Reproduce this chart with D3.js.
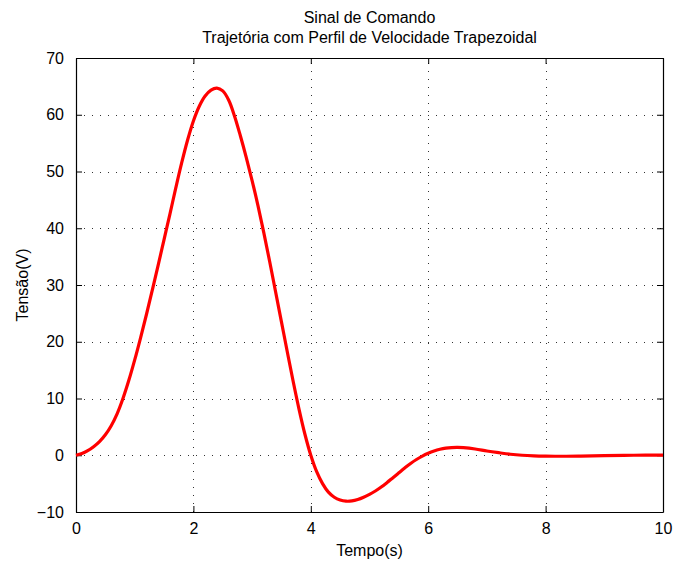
<!DOCTYPE html>
<html>
<head>
<meta charset="utf-8">
<script src="https://cdn.jsdelivr.net/npm/d3@7"></script>
<style>
  html, body { margin: 0; padding: 0; background: #fff; }
  svg { display: block; }
  text { font-family: "Liberation Sans", Arial, Helvetica, sans-serif; fill: #000; }
</style>
</head>
<body>
<svg id="chart" width="674" height="562"></svg>
<script>
// ---- data ----
const titleLines = ["Sinal de Comando", "Trajetória com Perfil de Velocidade Trapezoidal"];
const xLabel = "Tempo(s)";
const yLabel = "Tensão(V)";
const xTicks = [0, 2, 4, 6, 8, 10];
const yTicks = [-10, 0, 10, 20, 30, 40, 50, 60, 70];
const time = [0, 0.1, 0.2, 0.3, 0.4, 0.5, 0.6, 0.7, 0.8, 0.9, 1.0, 1.1, 1.2, 1.3, 1.4, 1.5, 1.6, 1.7, 1.8, 1.9, 2.0, 2.1, 2.2, 2.3, 2.4, 2.5, 2.6, 2.7, 2.8, 2.9, 3.0, 3.1, 3.2, 3.3, 3.4, 3.5, 3.6, 3.7, 3.8, 3.9, 4.0, 4.1, 4.2, 4.3, 4.4, 4.5, 4.6, 4.7, 4.8, 4.9, 5.0, 5.1, 5.2, 5.3, 5.4, 5.5, 5.6, 5.7, 5.8, 5.9, 6.0, 6.1, 6.2, 6.3, 6.4, 6.5, 6.6, 6.8, 7.0, 7.2, 7.4, 7.6, 7.8, 8.0, 8.3, 8.6, 9.0, 9.5, 10];
const voltage = [0, 0.3, 0.8, 1.5, 2.4, 3.6, 5.2, 7.3, 10.0, 13.2, 16.8, 20.7, 24.8, 29.1, 33.5, 38.0, 42.5, 47.1, 51.5, 55.5, 58.9, 61.5, 63.3, 64.35, 64.7, 64.2, 62.6, 59.8, 56.3, 52.5, 48.4, 44.0, 39.2, 34.1, 28.8, 23.5, 18.2, 13.0, 8.1, 3.7, 0.0, -2.9, -5.0, -6.5, -7.4, -7.9, -8.1, -8.05, -7.8, -7.4, -6.9, -6.3, -5.6, -4.8, -3.95, -3.1, -2.25, -1.45, -0.75, -0.15, 0.35, 0.75, 1.05, 1.25, 1.35, 1.38, 1.33, 1.1, 0.75, 0.45, 0.18, 0.0, -0.1, -0.15, -0.18, -0.15, -0.08, 0, 0.02];

// ---- layout ----
const svg = d3.select("#chart");
const L = 76, R = 663, T = 58, B = 512;
const x = d3.scaleLinear().domain([0, 10]).range([L, R]);
const y = d3.scaleLinear().domain([-10, 70]).range([B, T]);

// grid
const grid = svg.append("g").attr("stroke", "#333").attr("stroke-width", 1)
  .attr("stroke-dasharray", "1,7").attr("shape-rendering", "crispEdges");
xTicks.slice(1, -1).forEach(t => {
  grid.append("line").attr("x1", Math.round(x(t)) + 0.5).attr("x2", Math.round(x(t)) + 0.5)
    .attr("y1", B).attr("y2", T);
});
yTicks.slice(1, -1).forEach(t => {
  grid.append("line").attr("y1", Math.round(y(t)) + 0.5).attr("y2", Math.round(y(t)) + 0.5)
    .attr("x1", L).attr("x2", R);
});

// axes (ticks inward on all sides)
const tickLen = 6;
const axB = d3.axisBottom(x).tickValues(xTicks).tickSizeInner(-tickLen).tickSizeOuter(0).tickPadding(tickLen + 5).tickFormat(d3.format("d"));
const axT = d3.axisTop(x).tickValues(xTicks).tickSizeInner(-tickLen).tickSizeOuter(0).tickFormat("");
const axL = d3.axisLeft(y).tickValues(yTicks).tickSizeInner(-tickLen).tickSizeOuter(0).tickPadding(tickLen + 6)
  .tickFormat(d => d < 0 ? "\u2212" + Math.abs(d) : String(d));
const axR = d3.axisRight(y).tickValues(yTicks).tickSizeInner(-tickLen).tickSizeOuter(0).tickFormat("");

function style(g) {
  g.select(".domain").attr("stroke", "#000").attr("stroke-width", 1.2);
  g.selectAll(".tick line").attr("stroke", "#000").attr("stroke-width", 1);
  g.selectAll(".tick text").attr("font-size", 16).attr("font-family", "Liberation Sans, Arial, sans-serif").attr("fill", "#000");
}
svg.append("g").attr("transform", `translate(0,${B})`).call(axB).call(style);
svg.append("g").attr("transform", `translate(0,${T})`).call(axT).call(style);
svg.append("g").attr("transform", `translate(${L},0)`).call(axL).call(style);
svg.append("g").attr("transform", `translate(${R},0)`).call(axR).call(style);

// line
const pts = time.map((t, i) => [t, voltage[i]]);
const line = d3.line().x(d => x(d[0])).y(d => y(d[1])).curve(d3.curveCatmullRom.alpha(0.5));
svg.append("path").datum(pts).attr("d", line).attr("fill", "none")
  .attr("stroke", "#ff0000").attr("stroke-width", 3.2).attr("stroke-linejoin", "round");

// titles
const cx = (L + R) / 2;
svg.append("text").attr("x", cx).attr("y", 23).attr("text-anchor", "middle").attr("font-size", 16).text(titleLines[0]);
svg.append("text").attr("x", cx).attr("y", 43).attr("text-anchor", "middle").attr("font-size", 16).text(titleLines[1]);
svg.append("text").attr("x", cx).attr("y", 556).attr("text-anchor", "middle").attr("font-size", 16).text(xLabel);
svg.append("text").attr("transform", `translate(28,${(T + B) / 2}) rotate(-90)`).attr("text-anchor", "middle").attr("font-size", 16).text(yLabel);
</script>
</body>
</html>
